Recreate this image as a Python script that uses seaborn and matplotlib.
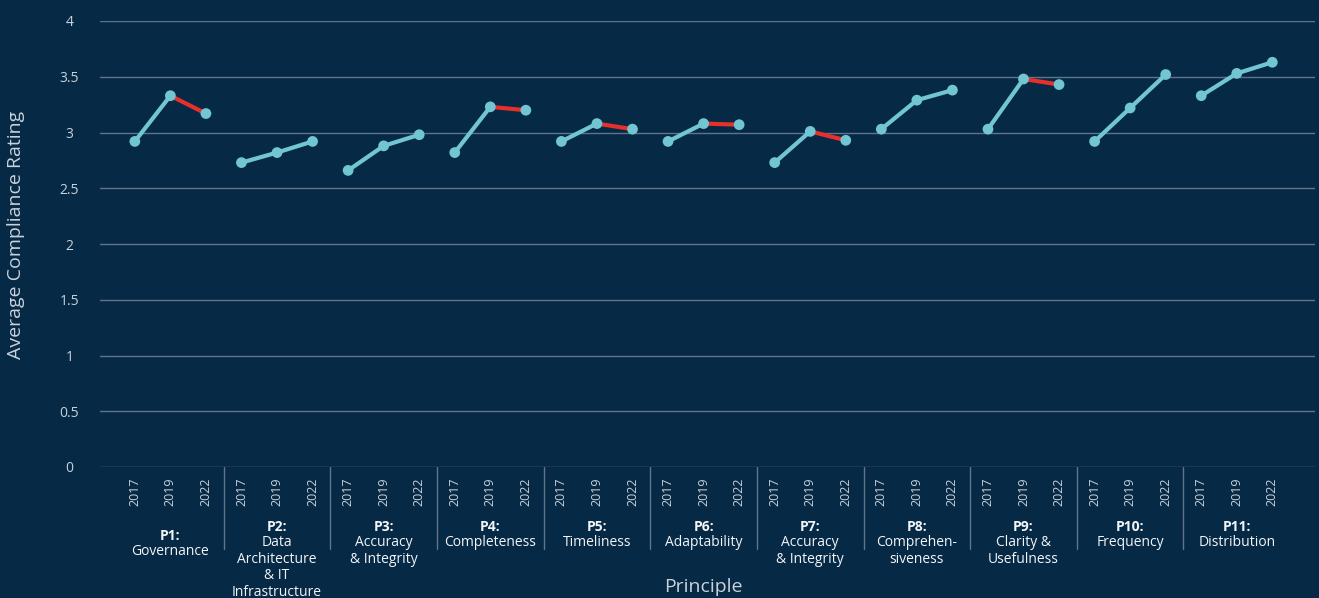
import matplotlib
matplotlib.use("Agg")
import matplotlib.pyplot as plt
import matplotlib.transforms as mtransforms
import numpy as np
import pandas as pd
import seaborn as sns

# ---- data -------------------------------------------------------------
principles = ["P1:", "P2:", "P3:", "P4:", "P5:", "P6:", "P7:", "P8:", "P9:", "P10:", "P11:"]
principle_names = [
    "Governance",
    "Data\nArchitecture\n& IT\nInfrastructure",
    "Accuracy\n& Integrity",
    "Completeness",
    "Timeliness",
    "Adaptability",
    "Accuracy\n& Integrity",
    "Comprehen-\nsiveness",
    "Clarity &\nUsefulness",
    "Frequency",
    "Distribution",
]
years = ["2017", "2019", "2022"]
rating_2017 = [2.92, 2.73, 2.66, 2.82, 2.92, 2.92, 2.73, 3.03, 3.03, 2.92, 3.33]
rating_2019 = [3.33, 2.82, 2.88, 3.23, 3.08, 3.08, 3.01, 3.29, 3.48, 3.22, 3.53]
rating_2022 = [3.17, 2.92, 2.98, 3.20, 3.03, 3.07, 2.93, 3.38, 3.43, 3.52, 3.63]

# ---- styling ----------------------------------------------------------
BG = "#062945"
GRID = "#5d7489"
TICK = "#c9d2db"
TEXT = "#f2f5f8"
UP = "#72c6d3"
DOWN = "#e5302c"

sns.set_theme(style="dark")
plt.rcParams["font.family"] = ["Open Sans", "DejaVu Sans"]

# long table: one row per principle/year with a categorical x position
rows = []
for g, p in enumerate(principles):
    vals = [rating_2017[g], rating_2019[g], rating_2022[g]]
    for k, (yr, v) in enumerate(zip(years, vals)):
        rows.append({"principle": p, "year": yr, "rating": v, "pos": g * 3 + k})
df = pd.DataFrame(rows)

# segments between consecutive survey years, tagged by direction
segs = []
sid = 0
for p, grp in df.groupby("principle", sort=False):
    grp = grp.sort_values("pos")
    for a, b in zip(grp.iloc[:-1].itertuples(), grp.iloc[1:].itertuples()):
        direction = "down" if b.rating < a.rating else "up"
        for r in (a, b):
            segs.append({"seg": sid, "pos": r.pos, "rating": r.rating, "direction": direction})
        sid += 1
seg_df = pd.DataFrame(segs)

fig = plt.figure(figsize=(13.19, 5.98), dpi=100, facecolor=BG)
ax = fig.add_axes([100 / 1319, 1 - 467 / 598, 1215 / 1319, 446 / 598])
ax.set_facecolor(BG)

sns.lineplot(data=seg_df, x="pos", y="rating", units="seg", estimator=None,
             hue="direction", palette={"up": UP, "down": DOWN},
             linewidth=3, legend=False, ax=ax, zorder=3)
sns.scatterplot(data=df, x="pos", y="rating", color=UP, s=60,
                edgecolor="none", legend=False, ax=ax, zorder=4)

# axes ranges & grid
n = len(df)
ax.set_xlim(-0.98, n - 1 + 1.2)
ax.set_ylim(0, 4)
ax.set_yticks(np.arange(0, 4.01, 0.5))
ax.set_yticklabels(["0", "0.5", "1", "1.5", "2", "2.5", "3", "3.5", "4"])
ax.yaxis.grid(True, color=GRID, linewidth=1)
ax.xaxis.grid(False)
for s in ax.spines.values():
    s.set_visible(False)
ax.tick_params(axis="y", length=0, pad=22, labelsize=10, labelcolor=TICK)
for lbl in ax.get_yticklabels():
    lbl.set_ha("center")

ax.set_xticks(df["pos"])
ax.set_xticklabels(df["year"], rotation=90)
ax.tick_params(axis="x", length=0, pad=7.5, labelsize=9, labelcolor=TICK)

ax.set_ylabel("")
ax.set_xlabel("")

# group separators below the axis
trans = mtransforms.blended_transform_factory(ax.transData, ax.transAxes)
for g in range(1, len(principles)):
    ax.plot([g * 3 - 0.5] * 2, [0, -82 / 446], transform=trans, clip_on=False,
            color=GRID, linewidth=1)

# group labels (the first block sits a little lower)
for g, (p, name) in enumerate(zip(principles, principle_names)):
    xc = g * 3 + 1
    drop = 6.5 if g == 0 else 0.0
    ax.annotate(p, xy=(xc, 0), xycoords=("data", "axes fraction"),
                xytext=(0, -43 - drop), textcoords="offset points",
                ha="center", va="center", fontsize=10, fontweight="bold", color=TEXT)
    ax.annotate(name, xy=(xc, 0), xycoords=("data", "axes fraction"),
                xytext=(0, -49 - drop), textcoords="offset points",
                ha="center", va="top", fontsize=10, color=TEXT, linespacing=1.15)

fig.text(703 / 1319, 1 - 587 / 598, "Principle", ha="center", va="center",
         fontsize=14, color=TICK)
fig.text(16 / 1319, 1 - 235 / 598, "Average Compliance Rating", ha="center",
         va="center", rotation=90, fontsize=14, color=TICK)

fig.savefig("out.png", dpi=100, facecolor=BG)
